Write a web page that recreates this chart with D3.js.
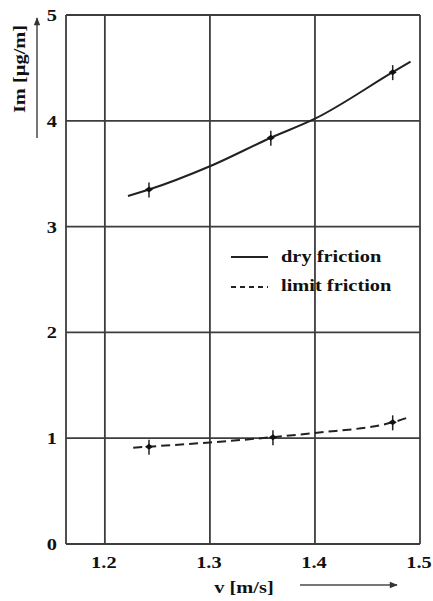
<!DOCTYPE html>
<html>
<head>
<meta charset="utf-8">
<script src="https://cdn.jsdelivr.net/npm/d3@7"></script>
<style>
  body { margin: 0; background: #fff; }
  text { font-family: "Liberation Serif", "Times New Roman", serif; font-weight: bold; fill: #111; }
</style>
</head>
<body>
<div class="chart"></div>
<script>
// data
var xTicks = [1.2, 1.3, 1.4, 1.5];
var yTicks = [0, 1, 2, 3, 4, 5];
var series = ["dry friction", "limit friction"];

// smooth curves through the plot
var dryCurveV  = [1.222, 1.242, 1.30, 1.358, 1.40, 1.474, 1.491];
var dryCurveIm = [3.29, 3.35, 3.57, 3.84, 4.02, 4.46, 4.56];
var limCurveV  = [1.227, 1.242, 1.30, 1.36, 1.40, 1.474, 1.49];
var limCurveIm = [0.91, 0.92, 0.96, 1.01, 1.05, 1.15, 1.20];

// measured points
var dryPtsV  = [1.242, 1.358, 1.474];
var dryPtsIm = [3.35, 3.84, 4.46];
var limPtsV  = [1.242, 1.36, 1.474];
var limPtsIm = [0.92, 1.01, 1.15];

var width = 433, height = 601;
var sx = 1.2; // text in the scan is stretched sideways

var svg = d3.select(".chart").append("svg")
    .attr("width", width)
    .attr("height", height);

var x = d3.scaleLinear().domain([1.163, 1.5]).range([66, 420]);
var y = d3.scaleLinear().domain([0, 5]).range([544, 15]);

var gridColor = "#3d3d3d";

// grid
svg.append("g").selectAll("line")
  .data(yTicks).enter().append("line")
    .attr("x1", x(1.163)).attr("x2", x(1.5))
    .attr("y1", function(d) { return y(d); })
    .attr("y2", function(d) { return y(d); })
    .style("stroke", gridColor).style("stroke-width", 1.8);

svg.append("g").selectAll("line")
  .data([1.163].concat(xTicks)).enter().append("line")
    .attr("x1", function(d) { return x(d); })
    .attr("x2", function(d) { return x(d); })
    .attr("y1", y(0)).attr("y2", y(5))
    .style("stroke", gridColor).style("stroke-width", 1.8);

// tick labels
svg.append("g").selectAll("text")
  .data(yTicks).enter().append("text")
    .attr("transform", function(d) { return "translate(57," + (y(d) + 6) + ") scale(" + sx + ",1)"; })
    .attr("text-anchor", "end")
    .style("font-size", "17px")
    .text(function(d) { return d; });

svg.append("g").selectAll("text")
  .data(xTicks).enter().append("text")
    .attr("transform", function(d) { return "translate(" + (x(d) - 1) + ",568) scale(" + sx + ",1)"; })
    .attr("text-anchor", "middle")
    .style("font-size", "17px")
    .text(function(d) { return d.toFixed(1); });

// axis titles + arrows
svg.append("text")
    .attr("transform", "translate(25,69) rotate(-90) scale(" + sx + ",1)")
    .attr("text-anchor", "middle")
    .style("font-size", "17px")
    .text("Im [µg/m]");

svg.append("text")
    .attr("transform", "translate(244,593) scale(" + sx + ",1)")
    .attr("text-anchor", "middle")
    .style("font-size", "17px")
    .text("v [m/s]");

var defs = svg.append("defs");
defs.append("marker")
    .attr("id", "arrow")
    .attr("viewBox", "0 0 10 10")
    .attr("refX", 9).attr("refY", 5)
    .attr("markerWidth", 6).attr("markerHeight", 4)
    .attr("orient", "auto")
  .append("path")
    .attr("d", "M0,1 L10,5 L0,9 Z")
    .style("fill", "#333");

svg.append("line")
    .attr("x1", 37).attr("y1", 138).attr("x2", 37).attr("y2", 18)
    .style("stroke", "#777").style("stroke-width", 2)
    .attr("marker-end", "url(#arrow)");

svg.append("line")
    .attr("x1", 300).attr("y1", 585).attr("x2", 397).attr("y2", 585)
    .style("stroke", "#777").style("stroke-width", 2)
    .attr("marker-end", "url(#arrow)");

// curves
var line = d3.line()
    .x(function(d) { return x(d[0]); })
    .y(function(d) { return y(d[1]); })
    .curve(d3.curveMonotoneX);

svg.append("path")
    .datum(d3.zip(dryCurveV, dryCurveIm))
    .attr("d", line)
    .style("fill", "none").style("stroke", "#222").style("stroke-width", 2);

svg.append("path")
    .datum(d3.zip(limCurveV, limCurveIm))
    .attr("d", line)
    .style("fill", "none").style("stroke", "#222").style("stroke-width", 2)
    .style("stroke-dasharray", "9,5");

// measured points: vertical tick + dot
function drawPoints(vs, ims) {
  var g = svg.append("g").selectAll("g")
    .data(d3.zip(vs, ims)).enter().append("g")
      .attr("transform", function(d) { return "translate(" + x(d[0]) + "," + y(d[1]) + ")"; });
  g.append("line")
      .attr("x1", 0).attr("x2", 0).attr("y1", -7).attr("y2", 8)
      .style("stroke", "#222").style("stroke-width", 1.5);
  g.append("path")
      .attr("d", "M-4,0 L0,-3 L4,0 L0,3 Z")
      .style("fill", "#111");
}
drawPoints(dryPtsV, dryPtsIm);
drawPoints(limPtsV, limPtsIm);

// legend
var legend = svg.append("g");
legend.selectAll("line")
  .data(series).enter().append("line")
    .attr("x1", 231).attr("x2", 268)
    .attr("y1", function(d, i) { return 257 + i * 30; })
    .attr("y2", function(d, i) { return 257 + i * 30; })
    .style("stroke", "#222").style("stroke-width", 2)
    .style("stroke-dasharray", function(d, i) { return i ? "5,4" : null; });
legend.selectAll("text")
  .data(series).enter().append("text")
    .attr("transform", function(d, i) { return "translate(281," + (262 + i * 29) + ") scale(" + sx + ",1)"; })
    .style("font-size", "17px")
    .text(function(d) { return d; });
</script>
</body>
</html>
